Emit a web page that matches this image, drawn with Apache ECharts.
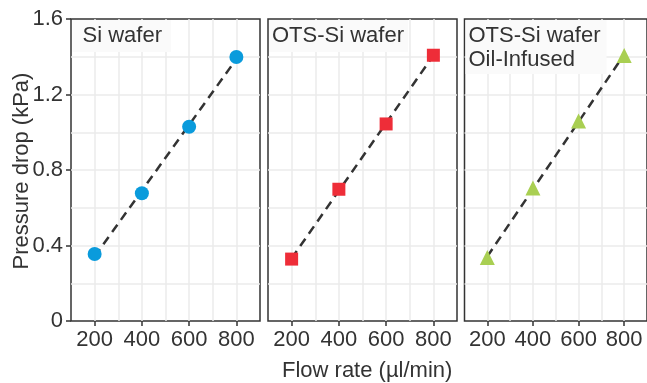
<!DOCTYPE html>
<html>
<head>
<meta charset="utf-8">
<script src="https://cdn.jsdelivr.net/npm/echarts@6/dist/echarts.min.js"></script>
<style>html,body{margin:0;padding:0;background:#fff}#c{width:647px;height:383px}</style>
</head>
<body>
<div id="c"></div>
<script>
// ---- data ----
const flowRates = [200, 400, 600, 800];
const siWafer = [0.355, 0.677, 1.029, 1.399];
const otsWafer = [0.328, 0.698, 1.044, 1.408];
const oilInfused = [0.336, 0.705, 1.060, 1.407];
const fitX = [200, 800];
const siFit = [0.342, 1.388];
const otsFit = [0.332, 1.407];
const oilFit = [0.342, 1.412];
const panelNames = ['Si wafer', 'OTS-Si wafer', 'OTS-Si wafer\nOil-Infused'];
const xTickLabels = [200, 400, 600, 800];
const yTickLabels = [0, 0.4, 0.8, 1.2, 1.6];

const FONT = 'Liberation Sans, Arial, Helvetica, sans-serif';
const TXT = '#333';
const GRIDC = '#ebebeb';

const panels = [
  {vals: siWafer, fit: siFit, symbol: 'circle', size: 14, color: '#0A9BDC'},
  {vals: otsWafer, fit: otsFit, symbol: 'rect', size: 13, color: '#EE2D38'},
  {vals: oilInfused, fit: oilFit, symbol: 'triangle', size: 15, color: '#A9CF52'}
];
const lefts = [71, 268, 464.5];

const grid = [], xAxis = [], yAxis = [], series = [], title = [];
panels.forEach((p, i) => {
  grid.push({left: lefts[i], top: 19, width: 189, height: 302, show: true,
    borderColor: '#333', borderWidth: 1.5, backgroundColor: '#fff', containLabel: false});
  // labelled axes
  xAxis.push({type: 'value', gridIndex: i, min: 100, max: 900, interval: 100,
    axisLine: {show: false},
    axisTick: {show: true, customValues: xTickLabels, length: 5, lineStyle: {color: '#333', width: 1.5}},
    axisLabel: {customValues: xTickLabels, margin: 8, fontSize: 22, color: TXT, fontFamily: FONT},
    splitLine: {show: false}
  });
  yAxis.push({type: 'value', gridIndex: i, min: 0, max: 1.6, interval: 0.2,
    axisLine: {show: false},
    axisTick: {show: i === 0, customValues: yTickLabels, length: 5, lineStyle: {color: '#333', width: 1.5}},
    axisLabel: {show: i === 0, customValues: yTickLabels, margin: 8, fontSize: 22, color: TXT, fontFamily: FONT,
      formatter: v => (v === 0 ? '0' : v.toFixed(1))},
    splitLine: {show: false}
  });
});
// grid-line-only axes
panels.forEach((p, i) => {
  xAxis.push({type: 'value', gridIndex: i, min: 100, max: 900, interval: 100, position: 'bottom',
    axisLine: {show: false}, axisTick: {show: false}, axisLabel: {show: false},
    splitLine: {show: true, showMinLine: false, showMaxLine: false, lineStyle: {color: GRIDC, width: 1.5}}});
  yAxis.push({type: 'value', gridIndex: i, min: 0, max: 1.6, interval: 0.2, position: 'left',
    axisLine: {show: false}, axisTick: {show: false}, axisLabel: {show: false},
    splitLine: {show: true, showMinLine: false, showMaxLine: false, lineStyle: {color: GRIDC, width: 1.5}}});
});
panels.forEach((p, i) => {
  series.push({type: 'line', xAxisIndex: i, yAxisIndex: i, symbol: 'none', z: 2,
    data: fitX.map((x, k) => [x, p.fit[k]]),
    lineStyle: {color: '#333', width: 2.5, type: [9, 6]}, silent: true});
  series.push({type: 'scatter', xAxisIndex: i, yAxisIndex: i, z: 3,
    symbol: p.symbol, symbolSize: p.size,
    data: flowRates.map((x, k) => [x, p.vals[k]]),
    itemStyle: {color: p.color, opacity: 1}});
});

const ts = {fontSize: 22, fontWeight: 'normal', color: TXT, fontFamily: FONT, lineHeight: 24};
title.push({text: panelNames[0], left: 72.5, top: 20, padding: [4, 9, 4, 10], backgroundColor: '#fafafa', textStyle: ts});
title.push({text: panelNames[1], left: 269, top: 20, padding: [4, 4, 4, 3], backgroundColor: '#fafafa', textStyle: ts});
title.push({text: panelNames[2], left: 465.5, top: 20, padding: [4, 6, 2, 3], backgroundColor: '#fafafa', textStyle: ts});

const chart = echarts.init(document.getElementById('c'), null, {renderer: 'canvas'});
chart.setOption({
  animation: false,
  backgroundColor: '#fff',
  title, grid, xAxis, yAxis, series,
  graphic: [
    {type: 'text', left: 282, top: 360,
      style: {text: 'Flow rate (µl/min)', fontSize: 22, fill: TXT, fontFamily: FONT}},
    {type: 'text', x: 22, y: 171, rotation: Math.PI / 2,
      style: {text: 'Pressure drop (kPa)', fontSize: 22, fill: TXT, fontFamily: FONT,
        align: 'center', verticalAlign: 'middle'}}
  ]
});
</script>
</body>
</html>
